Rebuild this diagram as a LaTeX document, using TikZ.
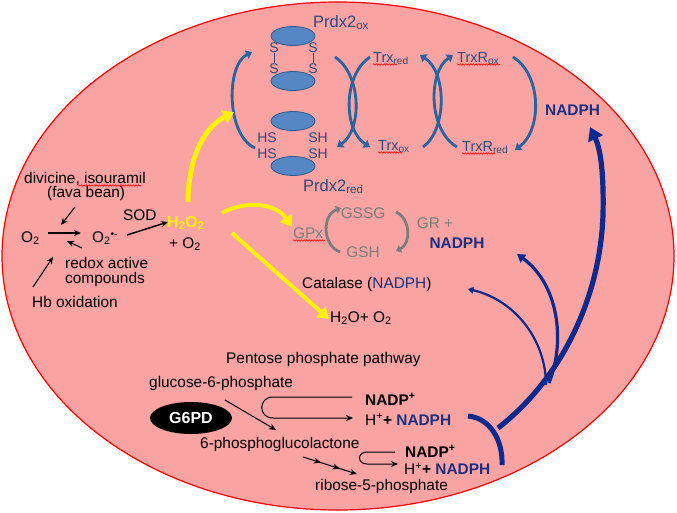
\documentclass[tikz,border=0pt]{standalone}
\usepackage{fontspec}
\setmainfont{Liberation Sans}
\usetikzlibrary{arrows.meta,shapes.geometric,decorations.pathmorphing,decorations.markings}
\definecolor{cellpink}{RGB}{249,163,163}
\definecolor{navyarrow}{RGB}{14,42,140}
\definecolor{navytext}{RGB}{28,48,130}
\definecolor{prdxtext}{RGB}{45,75,125}
\definecolor{ovalfill}{RGB}{84,135,196}
\definecolor{ovaldraw}{RGB}{50,90,140}
\definecolor{carrowc}{RGB}{40,100,160}
\definecolor{grayc}{RGB}{125,125,125}
\newcommand\mysub[1]{\textsubscript{#1}}
\newcommand\mysup[1]{\textsuperscript{#1}}
\begin{document}
\begin{tikzpicture}[x=1pt,y=-1pt,
  txt/.style={font=\fontsize{15.4}{17}\selectfont, inner sep=0pt, text=black},
  bw/.style={anchor=base west},
  ptxt/.style={font=\fontsize{14}{16}\selectfont, inner sep=0pt, text=prdxtext},
  btxt/.style={font=\fontsize{16.5}{18}\selectfont, inner sep=0pt, text=prdxtext, anchor=base west},
  gtxt/.style={font=\fontsize{15.4}{17}\selectfont, inner sep=0pt, text=grayc},
  oval/.style={ellipse, minimum width=44pt, minimum height=19pt, fill=ovalfill, draw=ovaldraw, line width=0.8pt, inner sep=0pt},
  carrow/.style={draw=carrowc, line width=2.8pt, -{Triangle[width=9pt,length=6pt]}},
  garrow/.style={draw=grayc, line width=2.8pt, -{Triangle[width=8pt,length=5pt]}},
  yarrow/.style={draw=yellow, line width=5pt, -{Triangle[width=14pt,length=11pt]}},
  blk/.style={draw=black, line width=1pt, -{Stealth[length=7pt,width=6pt]}},
  narrow/.style={draw=navyarrow, -{Triangle[width=#1*3pt,length=#1*2.5pt]}, line width=#1*1pt},
  squig/.style={draw=red, line width=0.6pt, decorate, decoration={snake, amplitude=0.7pt, segment length=2.6pt}}
]
\useasboundingbox (0,0) rectangle (677,512);
% cell
\fill[cellpink, draw=red, line width=1.2pt] (338,256) ellipse [x radius=336, y radius=254];

% ---------- Prdx2 cycle ----------
\node[oval] (ov1) at (293,36) {};
\node[oval] (ov2) at (293,81) {};
\node[oval] (ov3) at (293,121) {};
\node[oval] (ov4) at (293,166) {};
\node[ptxt] (s1) at (274,48) {S};
\node[ptxt] (s2) at (274,68.5) {S};
\node[ptxt] (s3) at (313,48) {S};
\node[ptxt] (s4) at (313,68.5) {S};
\draw[prdxtext, line width=1pt] (s1) -- (s2);
\draw[prdxtext, line width=1pt] (s3) -- (s4);
\node[ptxt] (hs1) at (267,137.5) {HS};
\node[ptxt] (hs2) at (267,153.5) {HS};
\node[ptxt] (sh1) at (318,137.5) {SH};
\node[ptxt] (sh2) at (318,153.5) {SH};
\node[btxt] (prdxox) at (313,27) {Prdx2\mysub{ox}};
\node[btxt] (prdxred) at (303,191) {Prdx2\mysub{red}};

\node[ptxt, bw, font=\fontsize{14.5}{16}\selectfont] (trxred) at (373,62) {Trx\mysub{red}};
\node[ptxt, bw, font=\fontsize{14.5}{16}\selectfont] (trxox) at (378,150) {Trx\mysub{ox}};
\node[ptxt, bw, font=\fontsize{14.5}{16}\selectfont] (trxrox) at (457,62) {TrxR\mysub{ox}};
\node[ptxt, bw, font=\fontsize{14.5}{16}\selectfont] (trxrred) at (462,151) {TrxR\mysub{red}};
\node[txt, bw, text=navytext, font=\bfseries\fontsize{15.4}{17}\selectfont] (nadph1) at (545,115) {NADPH};

% curved coupled arrows
\coordinate (lb1) at (255,148); \coordinate (lb2) at (252,52);
\draw[carrow] (lb1) .. controls (226,135) and (226,65) .. (lb2);
\coordinate (ma1) at (335,57); \coordinate (ma2) at (337,147);
\draw[carrow] (ma1) .. controls (362,75) and (362,130) .. (ma2);
\coordinate (mb1) at (370,57); \coordinate (mb2) at (370,147);
\draw[carrow] (mb1) .. controls (343,75) and (343,130) .. (mb2);
\coordinate (ra1) at (423,147); \coordinate (ra2) at (420,55);
\draw[carrow] (ra1) .. controls (447,130) and (447,72) .. (ra2);
\coordinate (rb1) at (457,147); \coordinate (rb2) at (453,55);
\draw[carrow] (rb1) .. controls (428,130) and (428,72) .. (rb2);
\coordinate (rr1) at (513,57); \coordinate (rr2) at (515,150);
\draw[carrow] (rr1) .. controls (542,75) and (542,130) .. (rr2);

% spell-check squiggles
\draw[squig] (373,64.5) -- (397,64.5);
\draw[squig] (378,152.5) -- (402,152.5);
\draw[squig] (457,64.5) -- (500,64.5);
\draw[squig] (462,153.5) -- (495,153.5);
\draw[squig] (293,240.5) -- (325,240.5);
\draw[squig] (78,185.5) -- (141,185.5);

% ---------- ROS generation ----------
\node[txt, bw] (divi) at (24,183) {divicine, isouramil};
\node[txt, bw] (fava) at (47,197) {(fava bean)};
\node[txt, bw] (o2a) at (21,242) {O\mysub{2}};
\node[txt, bw] (o2b) at (92,242) {O\mysub{2}\raisebox{5pt}{\fontsize{10}{10}\selectfont \textbullet-}};
\node[txt, bw] (sod) at (123,220) {SOD};
\node[txt, bw, text=yellow, font=\bfseries\fontsize{16}{18}\selectfont] (h2o2) at (167,227) {H\mysub{2}O\mysub{2}};
\node[txt, bw] (plo2) at (169,248) {+ O\mysub{2}};
\node[txt, bw] (redox) at (65,268) {redox active};
\node[txt, bw] (comp) at (65,283) {compounds};
\node[txt, bw] (hb) at (32,307) {Hb oxidation};

\coordinate (a1s) at (48,233); \coordinate (a1e) at (81,233);
\draw[blk, line width=1.5pt] (a1s) -- (a1e);
\coordinate (a2s) at (75,207); \coordinate (a2e) at (61,225);
\draw[blk] (a2s) -- (a2e);
\coordinate (a3s) at (82,248); \coordinate (a3e) at (67,241);
\draw[blk] (a3s) -- (a3e);
\coordinate (a4s) at (33,287); \coordinate (a4e) at (53,257);
\draw[blk] (a4s) -- (a4e);
\coordinate (a5s) at (127,235); \coordinate (a5e) at (168,222);
\draw[blk, line width=1.4pt] (a5s) -- (a5e);

% yellow arrows
\coordinate (y1s) at (188,202); \coordinate (y1e) at (234,112);
\draw[yarrow] (y1s) .. controls (188,160) and (203,128) .. (y1e);
\coordinate (y2s) at (222,213); \coordinate (y2e) at (292,227);
\draw[yarrow, line width=4pt] (y2s) .. controls (245,200) and (276,203) .. (y2e);
\coordinate (y3s) at (232,233); \coordinate (y3e) at (329,319);
\draw[yarrow, line width=4pt] (y3s) -- (y3e);

% ---------- glutathione ----------
\node[gtxt, bw] (gpx) at (293,238) {GPx};
\node[gtxt] (gssg) at (363,213) {GSSG};
\node[gtxt] (gsh) at (363,252) {GSH};
\node[gtxt] (gr) at (435,223) {GR +};
\node[txt, text=navytext, font=\bfseries\fontsize{15.4}{17}\selectfont] (nadph2) at (457,243) {NADPH};
\coordinate (g1s) at (340,252); \coordinate (g1e) at (341,208);
\draw[garrow] (g1s) .. controls (322,245) and (322,215) .. (g1e);
\coordinate (g2s) at (396,212); \coordinate (g2e) at (396,251);
\draw[garrow] (g2s) .. controls (411,219) and (411,244) .. (g2e);
\node[txt, bw] (cat) at (302,288) {Catalase (\textcolor{navytext}{NADPH})};
\node[txt, bw] (h2o) at (330,322) {H\mysub{2}O+ O\mysub{2}};

% ---------- pentose phosphate pathway ----------
\node[txt, bw] (ppp) at (226,363) {Pentose phosphate pathway};
\node[txt, bw] (g6p) at (149,387) {glucose-6-phosphate};
\node[ellipse, fill=black, minimum width=82pt, minimum height=32pt, inner sep=0pt,
      text=white, font=\bfseries\fontsize{16}{18}\selectfont] (g6pd) at (191,418) {G6PD};
\node[txt, bw] (pgl) at (200,448) {6-phosphoglucolactone};
\node[txt, bw] (r5p) at (315,490) {ribose-5-phosphate};
\node[txt, bw, font=\bfseries\fontsize{15.4}{17}\selectfont] (nadp1) at (365,405) {NADP\mysup{+}};
\node[txt, bw] (hn1) at (365,425) {H\mysup{+}\textbf{+ \textcolor{navytext}{NADPH}}};
\node[txt, bw, font=\bfseries\fontsize{15.4}{17}\selectfont] (nadp2) at (405,457) {NADP\mysup{+}};
\node[txt, bw] (hn2) at (404,474.5) {H\mysup{+}\textbf{+ \textcolor{navytext}{NADPH}}};

\coordinate (p1s) at (225,400); \coordinate (p1e) at (276,430);
\draw[blk] (p1s) -- (p1e);
\coordinate (h1s) at (352,397); \coordinate (h1a) at (273,397);
\coordinate (h1b) at (273,418); \coordinate (h1e) at (353,418);
\draw[blk] (h1s) -- (h1a) .. controls (258,397) and (258,418) .. (h1b) -- (h1e);
\coordinate (h2s) at (395,452); \coordinate (h2a) at (367,452);
\coordinate (h2b) at (367,464); \coordinate (h2e) at (398,464);
\draw[blk] (h2s) -- (h2a) .. controls (357,452) and (357,464) .. (h2b) -- (h2e);
\coordinate (c1s) at (303,457); \coordinate (c1e) at (357,474);
\draw[blk, postaction={decorate}, decoration={markings,
   mark=at position 0.33 with {\arrow{Stealth[length=7pt,width=6pt]}},
   mark=at position 0.68 with {\arrow{Stealth[length=7pt,width=6pt]}}}] (c1s) -- (c1e);

% NADPH distribution arrows
\coordinate (t1) at (468,416); \coordinate (t2) at (502,465); \coordinate (tm) at (498,428);
\draw[navyarrow, line width=5pt] (t1) .. controls (490,418) and (503,440) .. (t2);
\coordinate (m1e) at (590,127);
\draw[narrow=5.2] (tm) .. controls (560,380) and (600,300) .. (603,215) .. controls (604,170) and (600,148) .. (m1e);
\coordinate (m2s) at (549,383); \coordinate (m2e) at (517,254);
\draw[narrow=3.2] (m2s) .. controls (566,340) and (558,284) .. (m2e);
\coordinate (m3s) at (546,385); \coordinate (m3e) at (468,289);
\draw[narrow=2.2] (m3s) .. controls (546,340) and (515,300) .. (m3e);
\end{tikzpicture}
\end{document}
